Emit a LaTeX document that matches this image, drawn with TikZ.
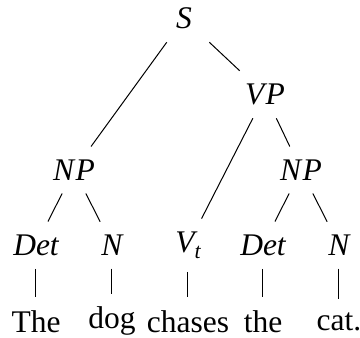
\documentclass[tikz,border=0pt]{standalone}
\usepackage{fontspec}
\setmainfont{Liberation Serif}
\begin{document}
\begin{tikzpicture}[x=1pt,y=-1pt,
  every node/.style={inner xsep=18pt, inner ysep=13pt, font=\fontsize{31.5}{36}\selectfont},
  catg/.style={font=\fontsize{31.5}{36}\selectfont\itshape},
  edge/.style={line width=1pt, line cap=butt}]
\useasboundingbox (0,0) rectangle (360,338);
% categories
\node[catg] (s)   at (184,18.5) {S};
\node[catg] (vp)  at (265,94.5) {V\kern1.5pt P};
\node[catg] (np1) at (74,170) {N\kern1.5pt P};
\node[catg] (np2) at (301,170) {N\kern1.5pt P};
\node[catg] (det1) at (36,245.2) {Det};
\node[catg] (n1)   at (112,245.2) {N};
\node[catg] (vt)   at (188,245.2) {V\raisebox{-6pt}{\fontsize{22}{22}\selectfont t}};
\node[catg] (det2) at (263,245.2) {Det};
\node[catg] (n2)   at (339,245.2) {N};
% words
\node (w1) at (36,321.4) {The};
\node (w2) at (112,321.4) {dog};
\node (w3) at (188,321.4) {chases};
\node (w4) at (263,321.4) {the};
\node (w5) at (339,321.4) {cat.};
% edges
\draw[edge] (s) -- (np1);
\draw[edge] (s) -- (vp);
\draw[edge] (vp) -- (vt);
\draw[edge] (vp) -- (np2);
\draw[edge] (np1) -- (det1);
\draw[edge] (np1) -- (n1);
\draw[edge] (np2) -- (det2);
\draw[edge] (np2) -- (n2);
\draw[edge] (det1) -- (w1);
\draw[edge] (n1) -- (w2);
\draw[edge] (vt) -- (w3);
\draw[edge] (det2) -- (w4);
\draw[edge] (n2) -- (w5);
\end{tikzpicture}
\end{document}
